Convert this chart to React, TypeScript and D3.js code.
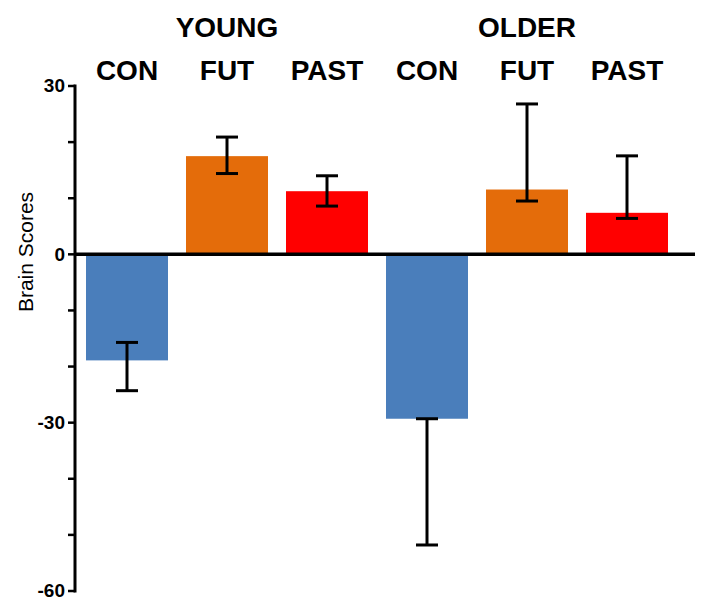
import React from "react";
import * as d3 from "d3";

const groups = ["YOUNG", "OLDER"];
const conditions = ["CON", "FUT", "PAST"];
const barKeys = ["YOUNG-CON", "YOUNG-FUT", "YOUNG-PAST", "OLDER-CON", "OLDER-FUT", "OLDER-PAST"];
const barValues = [-18.9, 17.5, 11.25, -29.3, 11.55, 7.4];
const errUpper = [-15.7, 20.9, 14.0, -29.3, 26.8, 17.55];
const errLower = [-24.3, 14.4, 8.6, -51.8, 9.5, 6.4];
const conditionColors = ["#4a7ebb", "#e46c0a", "#ff0000"];
const majorTicks = [30, 0, -30, -60];
const minorTicks = [20, 10, -10, -20, -40, -50];
const yLabel = "Brain Scores";

const W = 712;
const H = 616;
const axisX = 75;

export default function App() {
  const y = d3.scaleLinear().domain([-60, 30]).range([591, 86]);
  const x = d3
    .scaleBand<string>()
    .domain(barKeys)
    .range([77, 677])
    .paddingInner(0.18)
    .paddingOuter(0.09);
  const bw = x.bandwidth();
  const font = "'Liberation Sans', Arial, Helvetica, sans-serif";

  return (
    <svg
      width={W}
      height={H}
      style={{ position: "absolute", left: 0, top: 0, background: "#fff" }}
      fontFamily={font}
    >
      {/* bars */}
      {barKeys.map((k, i) => {
        const v = barValues[i];
        const y0 = y(0);
        const yv = y(v);
        return (
          <rect
            key={k}
            x={x(k)}
            y={Math.min(y0, yv)}
            width={bw}
            height={Math.abs(yv - y0)}
            fill={conditionColors[i % conditions.length]}
          />
        );
      })}
      {/* error bars */}
      {barKeys.map((k, i) => {
        const cx = (x(k) as number) + bw / 2;
        const yt = y(errUpper[i]);
        const yb = y(errLower[i]);
        return (
          <g key={"e" + k} stroke="#000" strokeWidth={3}>
            <line x1={cx} x2={cx} y1={yt} y2={yb} />
            <line x1={cx - 11} x2={cx + 11} y1={yt} y2={yt} />
            <line x1={cx - 11} x2={cx + 11} y1={yb} y2={yb} />
          </g>
        );
      })}
      {/* zero line */}
      <line x1={axisX} x2={695} y1={y(0)} y2={y(0)} stroke="#000" strokeWidth={3.5} />
      {/* y axis */}
      <line x1={axisX} x2={axisX} y1={y(30) - 1.5} y2={y(-60) + 1.5} stroke="#000" strokeWidth={3} />
      {majorTicks.concat(minorTicks).map((t) => (
        <line key={"t" + t} x1={axisX - 7} x2={axisX} y1={y(t)} y2={y(t)} stroke="#000" strokeWidth={2.5} />
      ))}
      {majorTicks.map((t) => (
        <text
          key={"l" + t}
          x={axisX - 10}
          y={y(t)}
          dy="0.33em"
          textAnchor="end"
          fontSize={19}
          fontWeight="bold"
          fill="#000"
        >
          {t}
        </text>
      ))}
      <text
        transform={`translate(33, 252) rotate(-90)`}
        textAnchor="middle"
        fontSize={21}
        fill="#000"
      >
        {yLabel}
      </text>
      {/* category labels */}
      {barKeys.map((k, i) => (
        <text
          key={"c" + k}
          x={(x(k) as number) + bw / 2}
          y={80}
          textAnchor="middle"
          fontSize={28}
          fontWeight="bold"
          fill="#000"
        >
          {conditions[i % conditions.length]}
        </text>
      ))}
      {groups.map((g, gi) => {
        const k = barKeys[gi * conditions.length + 1];
        return (
          <text
            key={g}
            x={(x(k) as number) + bw / 2}
            y={37}
            textAnchor="middle"
            fontSize={28}
            fontWeight="bold"
            fill="#000"
          >
            {g}
          </text>
        );
      })}
    </svg>
  );
}
